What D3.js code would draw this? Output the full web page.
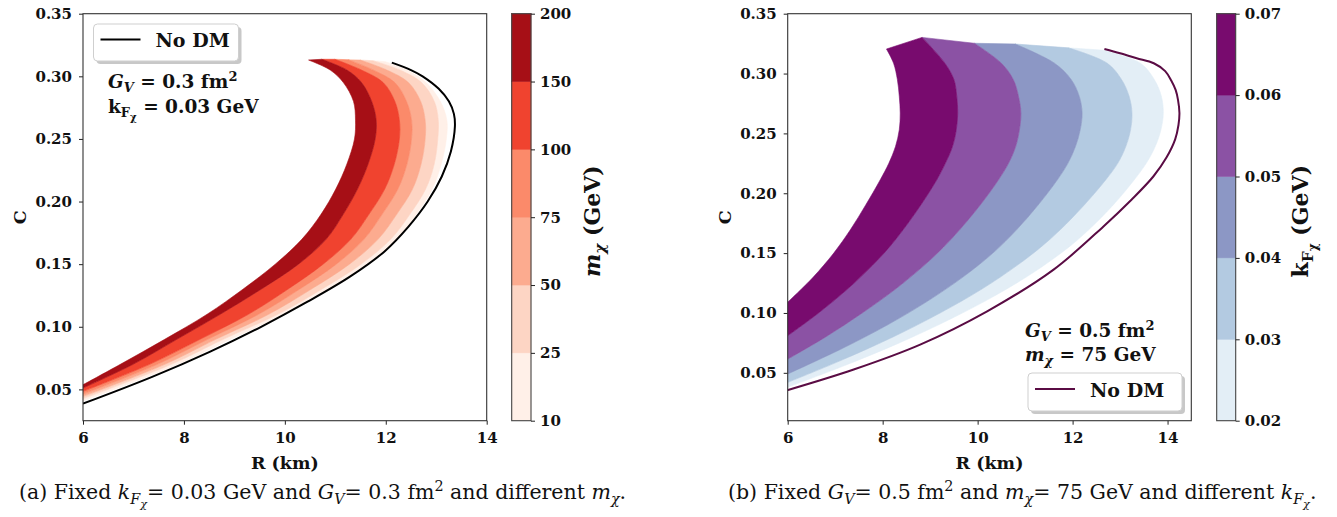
<!DOCTYPE html>
<html><head><meta charset="utf-8">
<script src="https://cdn.jsdelivr.net/npm/d3@7"></script>
<style>body{margin:0;background:#fff}svg{display:block}text{font-family:"DejaVu Serif",serif;fill:#111}</style>
</head><body><svg id="c" width="1337" height="517"></svg>
<script>
// ---------------- DATA ----------------
const yTickVals = [0.05,0.10,0.15,0.20,0.25,0.30,0.35];
const xTickVals = [6,8,10,12,14];
// Left panel: m_chi boundaries (GeV) and boundary curves [R (km), C]
const massBounds = ["10","25","50","75","100","150","200"];
const massColors = ["#fff0e8","#fdd5c4","#fcab8f","#fb8a6a","#f0432f","#a60f16"];
const curve_m10  = [[6.0,0.0407],[7.89,0.07],[8.92,0.09],[9.99,0.11],[10.86,0.13],[11.64,0.15],[12.23,0.17],[12.61,0.19],[12.92,0.21],[13.10,0.23],[13.20,0.25],[13.21,0.265],[13.08,0.28],[12.80,0.295],[12.42,0.305],[11.99,0.3117]];
const curve_m25  = [[6.0,0.0426],[7.75,0.07],[8.78,0.09],[9.86,0.11],[10.73,0.13],[11.51,0.15],[12.10,0.17],[12.48,0.19],[12.79,0.21],[12.96,0.23],[13.03,0.25],[13.04,0.265],[12.96,0.28],[12.71,0.295],[12.28,0.305],[11.74,0.3125]];
const curve_m50  = [[6.0,0.0444],[7.62,0.07],[8.63,0.09],[9.68,0.11],[10.52,0.13],[11.28,0.15],[11.85,0.17],[12.22,0.19],[12.53,0.21],[12.70,0.23],[12.78,0.25],[12.78,0.265],[12.69,0.28],[12.45,0.295],[12.02,0.305],[11.49,0.313]];
const curve_m75  = [[6.0,0.0463],[7.47,0.07],[8.47,0.09],[9.48,0.11],[10.29,0.13],[11.02,0.15],[11.57,0.17],[11.93,0.19],[12.24,0.21],[12.42,0.23],[12.51,0.25],[12.51,0.265],[12.41,0.28],[12.18,0.295],[11.75,0.305],[11.25,0.3133]];
const curve_m100 = [[6.0,0.0484],[7.32,0.07],[8.32,0.09],[9.28,0.11],[10.06,0.13],[10.76,0.15],[11.31,0.17],[11.67,0.19],[11.98,0.21],[12.17,0.23],[12.27,0.25],[12.27,0.265],[12.18,0.28],[11.95,0.295],[11.52,0.305],[10.99,0.3136]];
const curve_m150 = [[6.0,0.0511],[6.99,0.07],[7.86,0.09],[8.72,0.11],[9.53,0.13],[10.27,0.15],[10.82,0.17],[11.16,0.19],[11.44,0.21],[11.65,0.23],[11.79,0.25],[11.81,0.265],[11.72,0.28],[11.52,0.295],[11.23,0.305],[10.73,0.3136]];
const curve_m200 = [[6.0,0.0537],[6.74,0.07],[7.62,0.09],[8.46,0.11],[9.17,0.13],[9.81,0.15],[10.34,0.17],[10.72,0.19],[11.01,0.21],[11.23,0.23],[11.38,0.25],[11.40,0.265],[11.36,0.28],[11.16,0.295],[10.90,0.305],[10.47,0.313]];
const noDM_left  = [[6.0,0.0386],[7.37,0.06],[8.51,0.08],[9.53,0.10],[10.45,0.12],[11.29,0.14],[11.97,0.16],[12.45,0.18],[12.83,0.20],[13.11,0.22],[13.29,0.24],[13.37,0.26],[13.35,0.27],[13.25,0.28],[13.05,0.29],[12.73,0.30],[12.50,0.305],[12.12,0.3109]];
// Right panel: k_F boundaries (GeV) and boundary curves [R (km), C]
const kfBounds = ["0.02","0.03","0.04","0.05","0.06","0.07"];
const kfColors = ["#e3eef6","#b3cae1","#8c97c5","#8b52a4","#780b6e"];
const curve_k002 = [[6.0,0.038],[7.13,0.055],[8.35,0.075],[9.43,0.095],[10.39,0.115],[11.22,0.135],[11.92,0.155],[12.34,0.1695],[12.85,0.19],[13.30,0.2113],[13.55,0.225],[13.74,0.239],[13.86,0.253],[13.91,0.267],[13.87,0.281],[13.72,0.295],[13.43,0.3086],[12.65,0.3195]];
const curve_k003 = [[6.0,0.042],[7.10,0.06],[8.22,0.08],[9.21,0.10],[10.09,0.12],[10.84,0.14],[11.33,0.155],[11.74,0.1695],[12.24,0.19],[12.70,0.2113],[12.95,0.225],[13.12,0.239],[13.22,0.253],[13.25,0.267],[13.19,0.281],[13.03,0.295],[12.73,0.3086],[11.91,0.3215]];
const curve_k004 = [[6.0,0.049],[7.13,0.07],[8.10,0.09],[8.95,0.11],[9.69,0.13],[10.32,0.15],[10.82,0.1695],[11.27,0.19],[11.68,0.2113],[11.90,0.225],[12.06,0.239],[12.16,0.253],[12.20,0.267],[12.14,0.281],[11.97,0.295],[11.62,0.3086],[10.79,0.3247]];
const curve_k005 = [[6.0,0.0615],[6.80,0.08],[7.57,0.10],[8.27,0.12],[8.88,0.14],[9.28,0.155],[9.62,0.1695],[10.05,0.19],[10.44,0.2113],[10.65,0.225],[10.80,0.239],[10.88,0.253],[10.91,0.267],[10.86,0.281],[10.75,0.295],[10.50,0.3086],[9.93,0.3253]];
const curve_k006 = [[6.0,0.081],[6.65,0.10],[7.26,0.12],[7.79,0.14],[8.14,0.155],[8.43,0.1695],[8.80,0.19],[9.14,0.2113],[9.32,0.225],[9.47,0.239],[9.55,0.253],[9.58,0.267],[9.56,0.281],[9.50,0.295],[9.31,0.3086],[8.83,0.3302]];
const curve_k007 = [[6.0,0.109],[6.29,0.12],[6.54,0.13],[6.97,0.15],[7.32,0.1695],[7.64,0.19],[7.95,0.2113],[8.13,0.225],[8.27,0.239],[8.35,0.253],[8.37,0.267],[8.35,0.281],[8.31,0.295],[8.23,0.3086],[8.08,0.3205]];
const noDM_right = [[5.99,0.0355],[7.39,0.0528],[8.79,0.0736],[10.2,0.1014],[11.6,0.1362],[12.65,0.1723],[13.24,0.1946],[13.70,0.214],[13.98,0.23],[14.16,0.245],[14.23,0.257],[14.25,0.267],[14.22,0.278],[14.17,0.2863],[14.08,0.294],[13.95,0.302],[13.71,0.3086],[13.35,0.3128],[13.0,0.3169],[12.67,0.3205]];

// ---------------- DRAW ----------------
const svg = d3.select("#c");
const FONT = "DejaVu Serif";

function rich(g, x, y, parts, size, weight, anchor){
  const t = g.append("text").attr("x",x).attr("y",y).attr("font-size",size)
    .attr("font-weight",weight||"normal").attr("text-anchor",anchor||"start");
  let cur = 0;
  parts.forEach(p=>{
    const lvl = p.sub===2 ? 0.42 : p.sub ? 0.22 : p.sup ? -0.38 : 0;
    const fs = p.sub===2 ? 0.55 : (p.sub||p.sup) ? 0.7 : 1;
    const shift = lvl*size;
    const ts = t.append("tspan").attr("dy", shift-cur).attr("font-size", size*fs).text(p.t);
    if(p.it) ts.attr("font-style","italic");
    cur = shift;
  });
  return t;
}

function panel(cfg){
  const x = d3.scaleLinear().domain(cfg.xDom).range([cfg.x0,cfg.x1]);
  const y = d3.scaleLinear().domain(cfg.yDom).range([cfg.y1,cfg.y0]);
  const g = svg.append("g");
  const cid = "clip"+cfg.id;
  svg.append("defs").append("clipPath").attr("id",cid).append("rect")
    .attr("x",cfg.x0).attr("y",cfg.y0).attr("width",cfg.x1-cfg.x0).attr("height",cfg.y1-cfg.y0);
  const pg = g.append("g").attr("clip-path",`url(#${cid})`);
  const line = d3.line().x(d=>x(d[0])).y(d=>y(d[1])).curve(d3.curveCatmullRom.alpha(0.5));
  for(let k=0;k<cfg.curves.length-1;k++){
    const a = line(cfg.curves[k]);
    const b = line(cfg.curves[k+1].slice().reverse()).replace(/^M/,"L");
    pg.append("path").attr("d",a+b+"Z").attr("fill",cfg.colors[k])
      .attr("stroke",cfg.colors[k]).attr("stroke-width",0.6).attr("stroke-linejoin","round");
  }
  pg.append("path").attr("d",line(cfg.noDM)).attr("fill","none")
    .attr("stroke",cfg.lineColor).attr("stroke-width",2);
  const ax = g.append("g").attr("transform",`translate(0,${cfg.y1})`)
    .call(d3.axisBottom(x).tickValues(xTickVals).tickFormat(d3.format("d")).tickSize(4).tickPadding(8).tickSizeOuter(0));
  const ay = g.append("g").attr("transform",`translate(${cfg.x0},0)`)
    .call(d3.axisLeft(y).tickValues(yTickVals).tickFormat(d3.format(".2f")).tickSize(4).tickPadding(7).tickSizeOuter(0));
  [ax,ay].forEach(a=>{
    a.select(".domain").remove();
    a.selectAll("line").attr("stroke","#222");
    a.selectAll("text").attr("font-family",FONT).attr("font-weight","bold").attr("font-size",15).attr("fill","#111");
  });
  g.append("rect").attr("x",cfg.x0).attr("y",cfg.y0).attr("width",cfg.x1-cfg.x0).attr("height",cfg.y1-cfg.y0)
    .attr("fill","none").attr("stroke","#333").attr("stroke-width",1.1);
  g.append("text").attr("x",(cfg.x0+cfg.x1)/2).attr("y",469).attr("text-anchor","middle")
    .attr("font-size",17.5).attr("font-weight","bold").text("R (km)");
  g.append("text").attr("transform",`translate(${cfg.x0-57},${(cfg.y0+cfg.y1)/2}) rotate(-90)`)
    .attr("text-anchor","middle").attr("font-size",17.5).attr("font-weight","bold").text("C");
  return {x,y,g};
}

function colorbar(cfg){
  const n = cfg.bounds.length;
  const pos = d3.scalePoint().domain(cfg.bounds).range([cfg.y1,cfg.y0]);
  const g = svg.append("g");
  for(let k=0;k<n-1;k++){
    g.append("rect").attr("x",cfg.x0).attr("width",cfg.x1-cfg.x0)
      .attr("y",pos(cfg.bounds[k+1])).attr("height",pos(cfg.bounds[k])-pos(cfg.bounds[k+1]))
      .attr("fill",cfg.colors[k]).attr("stroke",cfg.colors[k]).attr("stroke-width",0.5);
  }
  g.append("rect").attr("x",cfg.x0).attr("y",cfg.y0).attr("width",cfg.x1-cfg.x0).attr("height",cfg.y1-cfg.y0)
    .attr("fill","none").attr("stroke","#444").attr("stroke-width",1.1);
  const ax = g.append("g").attr("transform",`translate(${cfg.x1},0)`)
    .call(d3.axisRight(pos).tickSize(4).tickPadding(5).tickSizeOuter(0));
  ax.select(".domain").remove();
  ax.selectAll("line").attr("stroke","#222");
  ax.selectAll("text").attr("font-family",FONT).attr("font-weight","bold").attr("font-size",15).attr("fill","#111");
  const lg = g.append("g").attr("transform",`translate(${cfg.labelX},${(cfg.y0+cfg.y1)/2+4}) rotate(-90)`);
  rich(lg,0,0,cfg.label,22,"bold","middle");
}

function legend(g, bx, by, bw, bh, color){
  g.append("rect").attr("x",bx+3).attr("y",by+3).attr("width",bw).attr("height",bh).attr("rx",4)
    .attr("fill","#9a9a9a").attr("opacity",0.55);
  g.append("rect").attr("x",bx).attr("y",by).attr("width",bw).attr("height",bh).attr("rx",4)
    .attr("fill","#fff").attr("stroke","#cfcfcf").attr("stroke-width",1);
  g.append("line").attr("x1",bx+7).attr("x2",bx+47).attr("y1",by+bh/2-3).attr("y2",by+bh/2-3)
    .attr("stroke",color).attr("stroke-width",2);
  g.append("text").attr("x",bx+62).attr("y",by+bh/2+4.5).attr("font-size",19).attr("font-weight","bold").text("No DM");
}

// Left panel
const L = panel({id:"L",x0:83,x1:486.7,y0:13.7,y1:420.7,xDom:[6,14],yDom:[0.025,0.35],
  curves:[curve_m10,curve_m25,curve_m50,curve_m75,curve_m100,curve_m150,curve_m200],
  colors:massColors,noDM:noDM_left,lineColor:"#000"});
legend(L.g,93.5,24,145,37,"#000");
rich(L.g,108,88,[{t:"G",it:1},{t:"V",it:1,sub:1},{t:" = 0.3 fm"},{t:"2",sup:1}],18.5,"bold");
rich(L.g,108,113,[{t:"k"},{t:"F",sub:1},{t:"χ",sub:2},{t:" = 0.03 GeV"}],18.5,"bold");
colorbar({x0:511.7,x1:531,y0:13.7,y1:420.7,bounds:massBounds,colors:massColors,labelX:600,
  label:[{t:"m",it:1},{t:"χ",it:1,sub:1},{t:" (GeV)"}]});

// Right panel
const R = panel({id:"R",x0:787.7,x1:1191.3,y0:13.7,y1:420.7,xDom:[6,14.5],yDom:[0.01,0.35],
  curves:[curve_k002,curve_k003,curve_k004,curve_k005,curve_k006,curve_k007],
  colors:kfColors,noDM:noDM_right,lineColor:"#5a0c44"});
rich(R.g,1025,337,[{t:"G",it:1},{t:"V",it:1,sub:1},{t:" = 0.5 fm"},{t:"2",sup:1}],18.5,"bold");
rich(R.g,1025,361,[{t:"m",it:1},{t:"χ",it:1,sub:1},{t:" = 75 GeV"}],18.5,"bold");
legend(R.g,1028,373,154,38,"#5a0c44");
colorbar({x0:1216.7,x1:1235.7,y0:13.7,y1:420.7,bounds:kfBounds,colors:kfColors,labelX:1308,
  label:[{t:"k"},{t:"F",sub:1},{t:"χ",sub:2},{t:" (GeV)"}]});

// Captions
rich(svg,19,499,[{t:"(a) Fixed "},{t:"k",it:1},{t:"F",it:1,sub:1},{t:"χ",it:1,sub:2},{t:"= 0.03 GeV and "},
  {t:"G",it:1},{t:"V",it:1,sub:1},{t:"= 0.3 fm"},{t:"2",sup:1},{t:" and different "},{t:"m",it:1},{t:"χ",it:1,sub:1},{t:"."}],20.5,"normal");
rich(svg,728,499,[{t:"(b) Fixed "},{t:"G",it:1},{t:"V",it:1,sub:1},{t:"= 0.5 fm"},{t:"2",sup:1},{t:" and "},
  {t:"m",it:1},{t:"χ",it:1,sub:1},{t:"= 75 GeV and different "},{t:"k",it:1},{t:"F",it:1,sub:1},{t:"χ",it:1,sub:2},{t:"."}],20.5,"normal");
</script></body></html>
